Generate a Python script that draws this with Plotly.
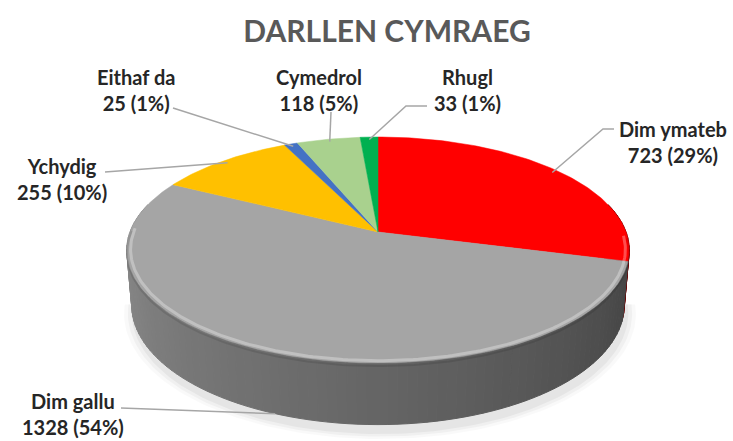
import numpy as np
import plotly.graph_objects as go

# ---------------- data ----------------
categories = ["Dim ymateb", "Dim gallu", "Ychydig", "Eithaf da", "Cymedrol", "Rhugl"]
values = [723, 1328, 255, 25, 118, 33]
colors = ["#FF0000", "#A5A5A5", "#FFC000", "#4472C4", "#A9D18E", "#00B050"]
title_text = "DARLLEN CYMRAEG"

# ---------------- layout helpers (pixel space) ----------------
W, HPX = 733, 441
CX, CY = 378, 232            # pie apex on screen
F, D = 1394.0, 5.62          # perspective focal length / camera distance
S = 0.444
C = float(np.sqrt(1 - S * S))
DEPTH = 0.25                 # pie thickness (unit radius)

# label centres and leader start points (layout only)
label_pos = {
    "Dim ymateb": (673, 142),
    "Dim gallu": (73, 414),
    "Ychydig": (62, 179),
    "Eithaf da": (136, 90),
    "Cymedrol": (319, 90),
    "Rhugl": (467, 90),
}
leader_start = {
    "Dim ymateb": [(614, 129), (603, 129)],
    "Dim gallu": [(121, 408)],
    "Ychydig": [(105, 172)],
    "Eithaf da": [(173, 108)],
    "Cymedrol": [(331, 112)],
    "Rhugl": [(427, 106), (406, 106)],
}


def proj(theta_deg, r=1.0, Y=0.0):
    t = np.radians(theta_deg)
    X = r * np.sin(t)
    Z = r * np.cos(t)
    yc = Y * C + Z * S
    zc = D + Z * C - Y * S
    return CX + F * X / zc, CY - F * yc / zc


def shade(hex_color, f):
    h = hex_color.lstrip("#")
    r, g, b = (int(h[i:i + 2], 16) for i in (0, 2, 4))
    return "rgb({},{},{})".format(int(r * f), int(g * f), int(b * f))


total = sum(values)
fracs = [v / total for v in values]
starts = np.concatenate([[0.0], np.cumsum(fracs)[:-1]]) * 360.0
ends = np.cumsum(fracs) * 360.0

fig = go.Figure()

# soft shadow beneath pie (front only)
for rr, a in [(1.04, 0.025), (1.025, 0.035), (1.01, 0.045)]:
    th = np.linspace(95, 265, 120)
    xs, ys = proj(th, rr, -DEPTH - 0.02)
    fig.add_trace(go.Scatter(x=xs + 2, y=ys + 3, mode="lines", fill="toself",
                             fillcolor="rgba(0,0,0,{})".format(a),
                             line=dict(width=0), hoverinfo="skip", showlegend=False))

# side strips
strips = []
for i in range(len(values)):
    a0 = max(starts[i], 75.0)
    a1 = min(ends[i], 285.0)
    if a1 <= a0:
        continue
    n = max(1, int(np.ceil((a1 - a0) / 2.0)))
    edges = np.linspace(a0, a1, n + 1)
    for t0, t1 in zip(edges[:-1], edges[1:]):
        tm = 0.5 * (t0 + t1)
        strips.append((np.cos(np.radians(tm)), i, t0, t1, tm))
strips.sort(key=lambda s: -s[0])
for _, i, t0, t1, tm in strips:
    f = 0.38 + (tm - 90.0) / 180.0 * 0.47
    f = min(max(f, 0.3), 0.9)
    col = shade(colors[i], f)
    x0t, y0t = proj(t0)
    x1t, y1t = proj(t1)
    x0b, y0b = proj(t0, 1.0, -DEPTH)
    x1b, y1b = proj(t1, 1.0, -DEPTH)
    fig.add_trace(go.Scatter(x=[x0t, x1t, x1b, x0b, x0t], y=[y0t, y1t, y1b, y0b, y0t],
                             mode="lines", fill="toself", fillcolor=col,
                             line=dict(color=col, width=1), hoverinfo="skip",
                             showlegend=False))

# top face slices
for i in range(len(values)):
    n = max(2, int(np.ceil((ends[i] - starts[i]) / 1.0)))
    th = np.linspace(starts[i], ends[i], n + 1)
    xs, ys = proj(th)
    xs = np.concatenate([[CX], xs, [CX]])
    ys = np.concatenate([[CY], ys, [CY]])
    fig.add_trace(go.Scatter(x=xs, y=ys, mode="lines", fill="toself",
                             fillcolor=colors[i], line=dict(color=colors[i], width=0.5),
                             name=categories[i], hoverinfo="name", showlegend=False))

# bevel highlight along front rim
th = np.linspace(92, 272, 181)
xs, ys = proj(th, 0.985)
fig.add_trace(go.Scatter(x=xs, y=ys, mode="lines",
                         line=dict(color="rgba(255,255,255,0.30)", width=3),
                         hoverinfo="skip", showlegend=False))
xs, ys = proj(th, 1.0, -0.012)
fig.add_trace(go.Scatter(x=xs, y=ys, mode="lines",
                         line=dict(color="rgba(0,0,0,0.10)", width=2),
                         hoverinfo="skip", showlegend=False))

# leader lines and labels
for i, cat in enumerate(categories):
    mid = 0.5 * (starts[i] + ends[i])
    if np.cos(np.radians(mid)) < -0.3:
        ax_, ay_ = proj(mid, 1.0, -DEPTH)
    else:
        ax_, ay_ = proj(mid, 0.97)
    pts = leader_start[cat] + [(ax_, ay_)]
    fig.add_trace(go.Scatter(x=[p[0] for p in pts], y=[p[1] for p in pts], mode="lines",
                             line=dict(color="#A6A6A6", width=1.5),
                             hoverinfo="skip", showlegend=False))
    pct = int(round(100.0 * values[i] / total))
    lx, ly = label_pos[cat]
    fig.add_annotation(x=lx, y=ly, xref="x", yref="y", showarrow=False,
                       text="<b>{}</b><br><b>{} ({}%)</b>".format(cat, values[i], pct),
                       font=dict(family="Lato, Liberation Sans, sans-serif", size=20,
                                 color="#262626"),
                       align="center", xanchor="center", yanchor="middle")

fig.update_layout(
    width=W, height=HPX,
    margin=dict(l=0, r=0, t=0, b=0),
    paper_bgcolor="white", plot_bgcolor="white",
    title=dict(text="<b>" + title_text + "</b>", x=387 / W, xanchor="center",
               y=1 - 31 / HPX, yanchor="middle",
               font=dict(family="Lato, Liberation Sans, sans-serif", size=30, color="#595959")),
    xaxis=dict(range=[0, W], visible=False, fixedrange=True),
    yaxis=dict(range=[HPX, 0], visible=False, fixedrange=True),
    showlegend=False,
)

fig.write_html("out.html", config={"displayModeBar": False},
               post_script="document.body.style.margin='0';document.body.style.overflow='hidden';")
